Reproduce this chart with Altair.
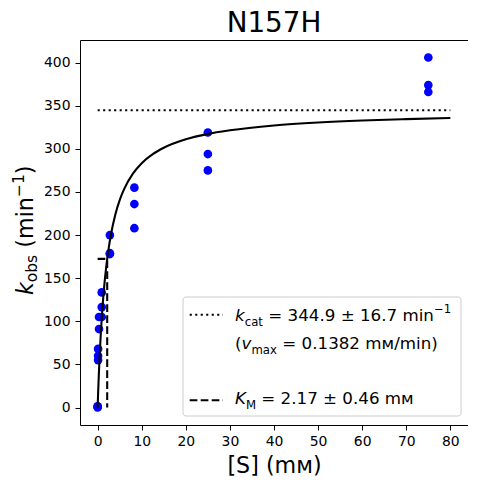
import altair as alt
import pandas as pd

# ---- data ----
conc = [75, 75, 75, 25, 25, 25, 8.33, 8.33, 8.33, 2.78, 2.78, 2.78,
        0.926, 0.926, 0.926, 0.309, 0.309, 0.103, 0.103, 0.103, 0, 0, 0]
kobs = [406, 374, 366, 319, 294, 275, 255, 236, 208, 200, 179, 178,
        133.5, 116.5, 105, 105, 91, 68, 60, 55, 1.5, 1, 0]

fit_s = [0, 0.1, 0.25, 0.5, 0.75, 1, 1.5, 2, 2.5, 3, 4, 5, 6, 8, 10, 12.5,
         15, 20, 25, 30, 40, 50, 60, 70, 80]
fit_k = [0, 15.2, 35.6, 64.6, 88.6, 108.8, 141.0, 165.4, 184.6, 200.1, 223.6,
         240.5, 253.3, 271.3, 283.4, 293.9, 301.3, 311.1, 317.4, 321.6, 327.2,
         330.6, 332.9, 334.5, 335.8]

kcat_s = [0, 80]
kcat_k = [344.9, 344.9]

km_s = [0, 2.17, 2.17]
km_k = [172.45, 172.45, 0]
km_order = [0, 1, 2]

x_ticks = [0, 10, 20, 30, 40, 50, 60, 70, 80]
y_ticks = [0, 50, 100, 150, 200, 250, 300, 350, 400]

FONT = "DejaVu Sans"
W, H = 388, 385

xs = alt.Scale(domain=[-4, 84], nice=False, zero=False)
ys = alt.Scale(domain=[-20.3, 426.3], nice=False, zero=False)
X = alt.X("s:Q", scale=xs, title="[S] (mᴍ)",
          axis=alt.Axis(values=x_ticks, titleY=47.7, titleBaseline="alphabetic"))
Y = alt.Y("k:Q", scale=ys, title=None, axis=alt.Axis(values=y_ticks))

pts = pd.DataFrame({"s": conc, "k": kobs})
fit = pd.DataFrame({"s": fit_s, "k": fit_k})
kc = pd.DataFrame({"s": kcat_s, "k": kcat_k})
kmdf = pd.DataFrame({"s": km_s, "k": km_k, "o": km_order})

points = alt.Chart(pts).mark_point(filled=True, size=75, color="#0000ff", opacity=1).encode(x=X, y=Y)
curve = alt.Chart(fit).mark_line(color="black", strokeWidth=2.08, interpolate="monotone").encode(x=X, y=Y)
kcat_line = alt.Chart(kc).mark_line(color="black", strokeWidth=2.08, strokeDash=[2.1, 3.4]).encode(x=X, y=Y)
km_line = alt.Chart(kmdf).mark_line(color="black", strokeWidth=2.08, strokeDash=[7.7, 3.3]).encode(
    x=X, y=Y, order="o:Q")

one = alt.Data(values=[{"a": 1}])


def txt(s, x, y, size, italic=False, angle=0, align="left", baseline="alphabetic"):
    return alt.Chart(one).mark_text(
        text=s, font=FONT, fontSize=size, fontStyle="italic" if italic else "normal",
        align=align, baseline=baseline, angle=angle, color="black"
    ).encode(x=alt.value(x), y=alt.value(y))


L, S = 16.7, 11.7
SP = 0.318 * L
legend_box = alt.Chart(one).mark_rect(fill="white", fillOpacity=0.8, stroke="#cccccc",
                                      strokeWidth=1, cornerRadius=3).encode(
    x=alt.value(103), x2=alt.value(381), y=alt.value(257), y2=alt.value(376)
)
h_dot = alt.Chart(one).mark_rule(color="black", strokeWidth=2.08, strokeDash=[2.1, 3.4]).encode(
    x=alt.value(109.7), x2=alt.value(143), y=alt.value(274.7)
)
h_dash = alt.Chart(one).mark_rule(color="black", strokeWidth=2.08, strokeDash=[7.7, 3.3]).encode(
    x=alt.value(109.7), x2=alt.value(143), y=alt.value(360.3)
)

legend_txt = [
    txt("k", 155, 281, L, italic=True),
    txt("cat", 164.7, 285.7, S),
    txt("= 344.9 ± 16.7 min", 183 + SP, 281, L),
    txt("−1", 354, 273, S),
    txt("(", 155, 309, L),
    txt("v", 161.5, 309, L, italic=True),
    txt("max", 171.4, 313.5, S),
    txt("= 0.1382 mᴍ/min)", 197 + SP, 309, L),
    txt("K", 155, 364, L, italic=True),
    txt("M", 166, 368.5, S),
    txt("= 2.17 ± 0.46 mᴍ", 176 + SP, 364, L),
]

YL, YS = 22.2, 15.5
ylab = [
    txt("k", -47, 255, YL, italic=True, angle=270),
    txt("obs", -43, 242.2, YS, angle=270),
    txt("(min", -47, 214.7 - 0.318 * YL, YL, angle=270),
    txt("−1", -56, 157.1, YS, angle=270),
    txt(")", -47, 134.2, YL, angle=270),
]

title = txt("N157H", W / 2, -7.7, 27.8, align="center")

chart = alt.layer(
    points, curve, kcat_line, km_line, legend_box, h_dot, h_dash, *legend_txt, *ylab, title
).properties(
    width=W, height=H,
    autosize=alt.AutoSizeParams(type="none"),
    padding={"left": 72, "top": 32, "right": 0, "bottom": 51},
).configure_view(
    stroke="black", strokeWidth=1
).configure_axis(
    grid=False, domain=False, tickColor="black", tickSize=5, tickWidth=1,
    labelFont=FONT, labelFontSize=13.9, labelColor="black",
    titleFont=FONT, titleFontSize=22.2, titleFontWeight="normal", titleColor="black",
).configure_axisX(labelPadding=4).configure_axisY(labelPadding=5)

chart.save("out.html", embed_options={"renderer": "svg", "actions": False})
